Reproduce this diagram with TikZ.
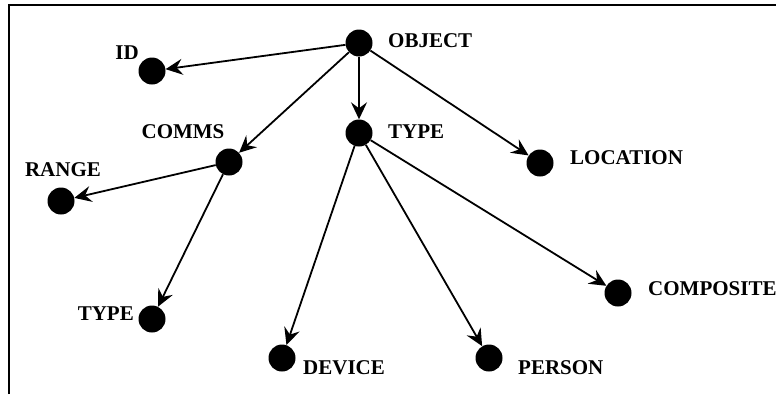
\documentclass[tikz,border=0pt]{standalone}
\usepackage{fontspec}
\setmainfont{Liberation Serif}
\usetikzlibrary{arrows.meta}
\begin{document}
\begin{tikzpicture}[x=1pt,y=-1pt,
 dot/.style={circle,fill=black,minimum size=27pt,inner sep=0pt},
 lbl/.style={font=\fontsize{21}{25}\selectfont\bfseries,inner sep=0pt},
 arr/.style={-{Stealth[length=17pt,width=16pt,inset=6pt]},line width=1.8pt}]
\useasboundingbox (0,0) rectangle (776,394);
\draw[line width=1.5pt] (9,394) -- (9,5) -- (776,5);
% dots
\node[dot] (obj) at (359,43) {};
\node[dot] (id) at (152,71) {};
\node[dot] (comms) at (229,162) {};
\node[dot] (range) at (61,201) {};
\node[dot] (ctype) at (152,319) {};
\node[dot] (type) at (359,133) {};
\node[dot] (loc) at (540,163) {};
\node[dot] (comp) at (618,293) {};
\node[dot] (dev) at (282,358) {};
\node[dot] (pers) at (489,358) {};
% labels
\node[lbl,anchor=west] (lobj) at (388,41) {OBJECT};
\node[lbl] (lid) at (127,53) {ID};
\node[lbl] (lcomms) at (183,132) {COMMS};
\node[lbl] (lrange) at (63,170) {RANGE};
\node[lbl,anchor=east] (lctype) at (134,314) {TYPE};
\node[lbl,anchor=west] (ltype) at (388,132) {TYPE};
\node[lbl,anchor=west] (lloc) at (570,158) {LOCATION};
\node[lbl,anchor=west] (lcomp) at (648,289) {COMPOSITE};
\node[lbl,anchor=west] (ldev) at (303,368) {DEVICE};
\node[lbl,anchor=west] (lpers) at (518,368) {PERSON};
% arrows
\draw[arr] (obj) -- (id);
\draw[arr] (obj) -- (comms);
\draw[arr] (obj) -- (type);
\draw[arr] (obj) -- (loc);
\draw[arr] (comms) -- (range);
\draw[arr] (comms) -- (ctype);
\draw[arr] (type) -- (dev);
\draw[arr] (type) -- (pers);
\draw[arr] (type) -- (comp);
\end{tikzpicture}
\end{document}
